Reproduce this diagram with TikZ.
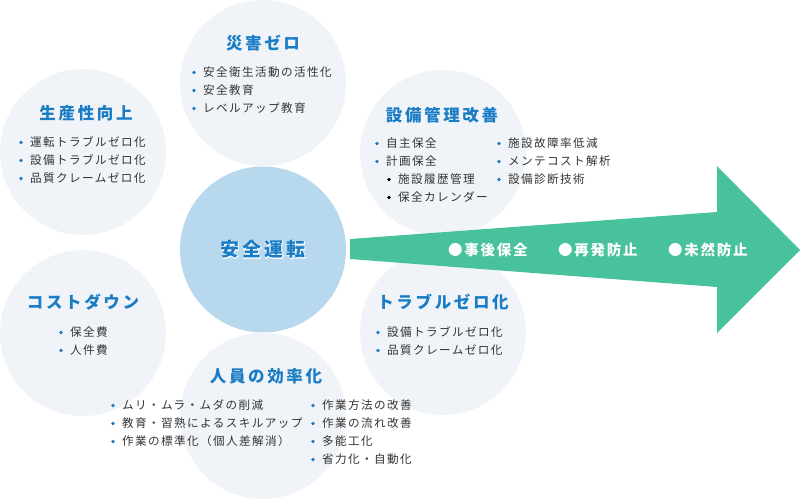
\documentclass[tikz,border=0pt]{standalone}
\usepackage{fontspec}
\newfontfamily\jp[LetterSpace=12]{Noto Sans CJK JP}
\newfontfamily\jpt[LetterSpace=16]{Noto Sans CJK JP}
\newfontfamily\jphalo[LetterSpace=16,FakeBold=5]{Noto Sans CJK JP}
\definecolor{bubc}{HTML}{F0F4F8}
\definecolor{corec}{HTML}{B8D8EE}
\definecolor{arrc}{HTML}{47C29D}
\definecolor{ttlc}{HTML}{1A7CC5}
\definecolor{txtc}{HTML}{333333}
\definecolor{bulc}{HTML}{1A7CC5}
\newcommand\myitem[4]{%
  \fill[bulc] (#2-9,#3+0.5) circle (1.8pt);
  \node[itm] (#1) at (#2,#3) {#4};}
\newcommand\mysub[4]{%
  \fill[black] (#2-9,#3+0.5) circle (1.8pt);
  \node[itm] (#1) at (#2,#3) {#4};}
\begin{document}
\begin{tikzpicture}[x=1pt,y=-1pt,
  bub/.style={circle,fill=bubc,minimum size=166pt,inner sep=0},
  core/.style={circle,fill=corec,minimum size=166pt,inner sep=0},
  ttl/.style={text=ttlc,font=\jpt\bfseries\fontsize{16.5}{18}\selectfont,inner sep=0},
  itm/.style={anchor=west,text=txtc,font=\jp\fontsize{11.6}{13}\selectfont,inner sep=0},
  clab/.style={font=\jpt\bfseries\fontsize{19}{20}\selectfont,inner sep=0},
  alab/.style={anchor=west,text=white,font=\jp\bfseries\fontsize{14.5}{15}\selectfont,inner sep=0}]
\useasboundingbox (0,0) rectangle (800,498);
% circles
\node[bub] (ctop) at (263,83) {};
\node[bub] (clt) at (83,152) {};
\node[bub] (clb) at (83,333) {};
\node[bub] (crt) at (443,153) {};
\node[bub] (crb) at (443,332) {};
\node[bub] (cbot) at (263,416) {};
\node[core] (c0) at (263,249.5) {};
% arrow
\fill[arrc] (350,239) -- (717,212) -- (717,166) -- (800,250) -- (717,333) -- (717,287) -- (350,259) -- cycle;
% center label with halo
\node[inner sep=0,text=white,font=\jphalo\bfseries\fontsize{19}{20}\selectfont] (halo0) at (c0) {安全運転};
\node[clab,text=ttlc] (lab0) at (c0) {安全運転};
% top
\node[ttl] (t1) at (263,43) {災害ゼロ};
\myitem{i11}{203}{72}{安全衛生活動の活性化}
\myitem{i12}{203}{90}{安全教育}
\myitem{i13}{203}{108}{レベルアップ教育}
% left top
\node[ttl] (t2) at (86,113) {生産性向上};
\myitem{i21}{30}{142}{運転トラブルゼロ化}
\myitem{i22}{30}{160}{設備トラブルゼロ化}
\myitem{i23}{30}{178}{品質クレームゼロ化}
% right top
\node[ttl] (t3) at (442,115) {設備管理改善};
\myitem{i31}{386}{143}{自主保全}
\myitem{i32}{386}{161}{計画保全}
\mysub{i33}{398}{179}{施設履歴管理}
\mysub{i34}{398}{197}{保全カレンダー}
\myitem{i35}{508}{143}{施設故障率低減}
\myitem{i36}{508}{161}{メンテコスト解析}
\myitem{i37}{508}{179}{設備診断技術}
% left bottom
\node[ttl] (t4) at (83,302) {コストダウン};
\myitem{i41}{70}{332}{保全費}
\myitem{i42}{70}{350}{人件費}
% right bottom
\node[ttl] (t5) at (443,302) {トラブルゼロ化};
\myitem{i51}{387}{332}{設備トラブルゼロ化}
\myitem{i52}{387}{350}{品質クレームゼロ化}
% bottom
\node[ttl] (t6) at (266,376) {人員の効率化};
\myitem{i61}{122}{405}{ムリ・ムラ・ムダの削減}
\myitem{i62}{122}{423}{教育・習熟によるスキルアップ}
\myitem{i63}{122}{441}{作業の標準化（個人差解消）}
\myitem{i64}{322}{405}{作業方法の改善}
\myitem{i65}{322}{423}{作業の流れ改善}
\myitem{i66}{322}{441}{多能工化}
\myitem{i67}{322}{459}{省力化・自動化}
% arrow labels
\node[alab] (a1) at (448,250) {●事後保全};
\node[alab] (a2) at (558,250) {●再発防止};
\node[alab] (a3) at (668,250) {●未然防止};
\end{tikzpicture}
\end{document}
